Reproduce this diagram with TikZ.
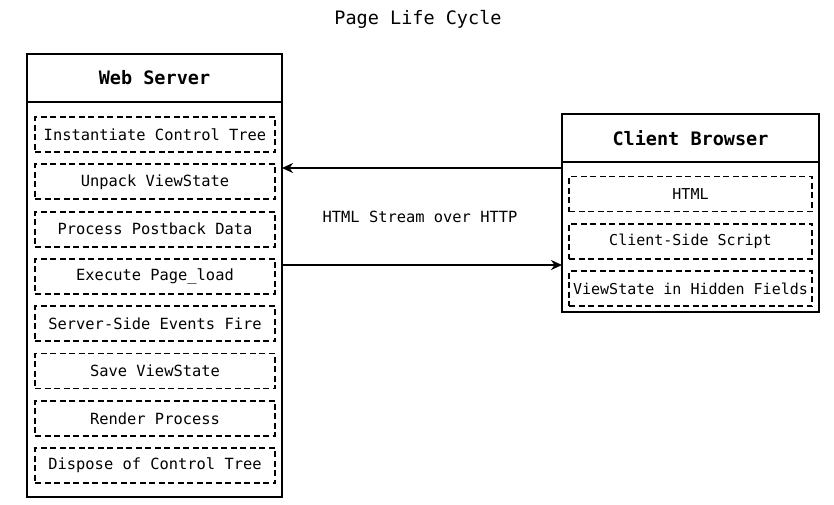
\documentclass[tikz,border=0pt]{standalone}
\usepackage{fontspec}
\setmainfont{DejaVu Sans Mono}
\usetikzlibrary{positioning,arrows.meta}

\begin{document}
\begin{tikzpicture}[x=1pt, y=-1pt, line width=1.9pt,
    head/.style={draw, minimum width=255pt, minimum height=48pt, inner sep=0pt,
      outer sep=0pt, font=\fontsize{18.5}{20}\selectfont\bfseries},
    frame/.style={draw, minimum width=255pt, inner sep=0pt, outer sep=0pt},
    stage/.style={draw, dash pattern=on 6pt off 3.5pt, minimum width=240pt,
      minimum height=35pt, inner sep=0pt, outer sep=0pt,
      font=\fontsize{15.4}{17}\selectfont},
    item/.style={stage, minimum width=243pt, font=\fontsize{15}{17}\selectfont},
    flow/.style={-{Stealth[length=11pt, width=10pt]}},
    node distance=12.3pt]
      \useasboundingbox (0,0) rectangle (834,504);
      \node (title) at (418,19) {\fontsize{18.5}{20}\selectfont Page Life Cycle};

      % web server
      \node[frame, minimum height=443pt] (server) at (154.5,275.5) {};
      \node[head, below=0pt of server.north] (serverhead) {Web Server};
      \node[stage] (s1) at (155,134.5) {Instantiate Control Tree};
      \node[stage, below=of s1] (s2) {Unpack ViewState};
      \node[stage, below=of s2] (s3) {Process Postback Data};
      \node[stage, below=of s3] (s4) {Execute Page\_load};
      \node[stage, below=of s4] (s5) {Server-Side Events Fire};
      \node[stage, below=of s5] (s6) {Save ViewState};
      \node[stage, below=of s6] (s7) {Render Process};
      \node[stage, below=of s7] (s8) {Dispose of Control Tree};

      % client browser
      \node[frame, minimum width=257pt, minimum height=198pt] (client) at (690.5,213) {};
      \node[head, minimum width=257pt, below=0pt of client.north] (clienthead) {Client Browser};
      \node[item] (c1) at (690.5,194) {HTML};
      \node[item, below=of c1] (c2) {Client-Side Script};
      \node[item, below=of c2] (c3) {ViewState in Hidden Fields};

      % request / response
      \coordinate (back) at ([yshift=45pt]client.west);
      \coordinate (out) at ([yshift=-52pt]client.west);
      \draw[flow] (back) -- (back -| server.east);
      \draw[flow] (out -| server.east) -- (out);
      \node[font=\fontsize{15.4}{17}\selectfont] (stream) at (420,217) {HTML Stream over HTTP};
\end{tikzpicture}
\end{document}
